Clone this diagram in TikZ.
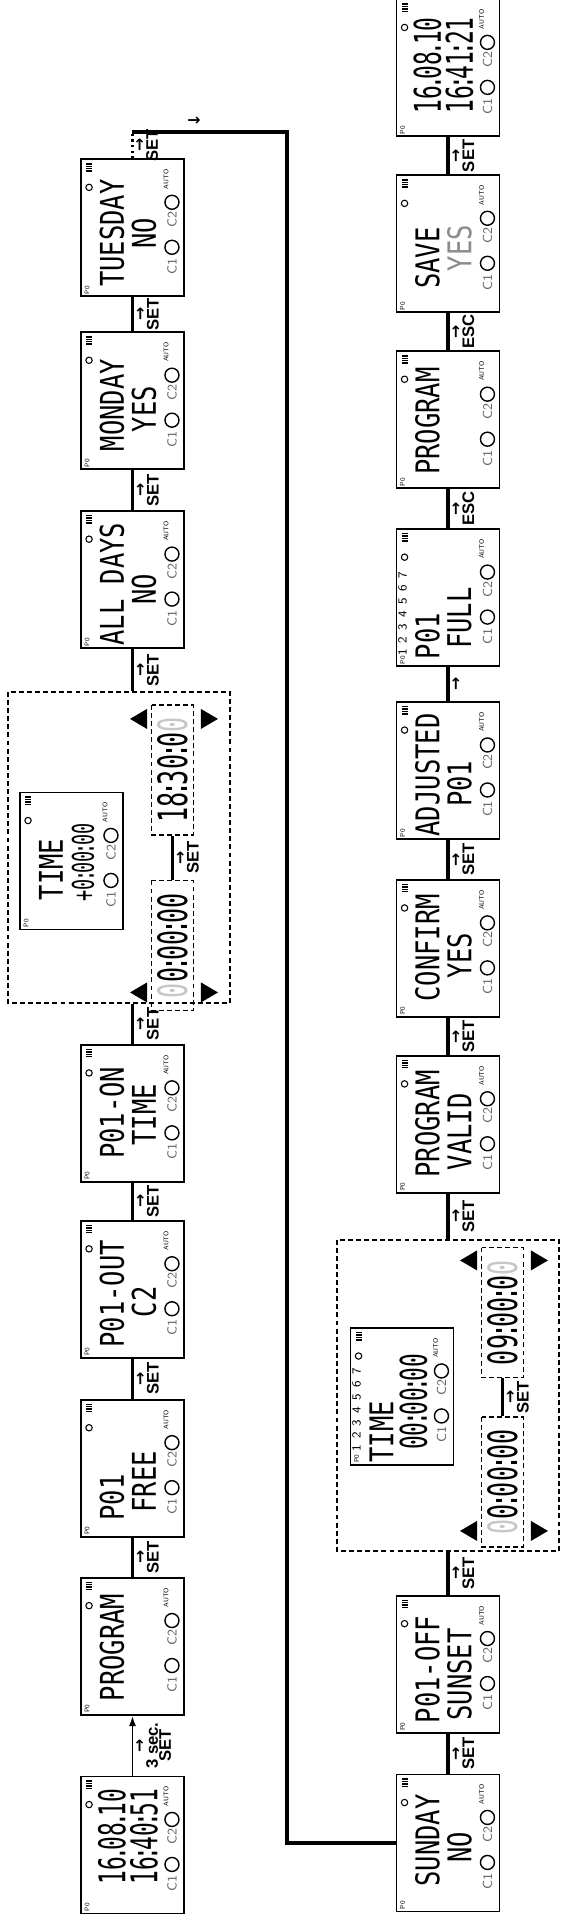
\documentclass[tikz,border=0pt]{standalone}
\usepackage{fontspec}
\usetikzlibrary{positioning,calc,arrows.meta}

\newfontfamily\lcdfont[FakeStretch=0.78]{DejaVu Sans Mono}
\newfontfamily\lcdnum[FakeStretch=0.62]{DejaVu Sans Mono}
\newfontfamily\keyfont{Liberation Sans}
\newfontfamily\arrfont{DejaVu Sans}

\newcommand\dsep[1]{\makebox[0.18em]{#1}}
\newcommand\dig{\lcdnum\fontsize{21}{21}\selectfont}
\newcommand\ghost[1]{{\color{black!22}#1}}
\newcommand\arr{{\arrfont\bfseries\fontsize{9}{9}\selectfont →}}

% frame decorations of one display
\newcommand\lcdmarks[1]{%
  \draw[line width=0.6pt] ($(#1.north east)+(-29,-9)$) circle (3.2);
  \foreach \k in {0,1,2,3}
    \fill ($(#1.north east)+(-13.5+2.4*\k,-12)$) rectangle +(1.4,6);
  \node[tag] (#1-p0) at ($(#1.north west)+(7,-7)$) {P0};
  \node[ctag] (#1-c1) at ($(#1.south west)+(31,13)$) {C1};
  \draw[line width=0.8pt] ($(#1.south west)+(50,13)$) circle (7);
  \node[ctag] (#1-c2) at ($(#1.south west)+(78,13)$) {C2};
  \draw[line width=0.8pt] ($(#1.south west)+(95,13)$) circle (7);
  \node[tag] (#1-auto) at ($(#1.south west)+(118,19)$) {AUTO};
}
\newcommand\lcdlines[5]{%
  \node[lcdtext] (#1-l1) at ($(#1.north west)+(#2,-32)$) {#3};
  \node[lcdtext] (#1-l2) at ($(#1.north west)+(#4,-64)$) {#5};
}
\newcommand\lcdline[3]{%
  \node[lcdtext] (#1-l1) at ($(#1.north west)+(#2,-32)$) {#3};
}
\newcommand\updown[2]{%
  \fill ($(#1.north west)+(#2,3.5)$) -- ++(20,0) -- ++(-10,17) -- cycle;
  \fill ($(#1.south west)+(#2,-6.5)$) -- ++(20,0) -- ++(-10,-17) -- cycle;
}

\tikzset{
  lcd/.style={draw,line width=1.1pt,minimum width=2.74cm,minimum height=2.06cm,inner sep=0pt},
  zone/.style={draw,line width=1.1pt,dash pattern=on 2.8pt off 1.8pt,minimum width=6.22cm,minimum height=4.45cm,inner sep=0pt},
  field/.style={draw,line width=1.1pt,dash pattern=on 2.8pt off 1.8pt,minimum width=2.6cm,minimum height=0.84cm,inner sep=0pt,font=\lcdnum\fontsize{23}{23}\selectfont},
  lcdtext/.style={inner sep=0pt,font=\lcdfont\fontsize{18.6}{18.6}\selectfont},
  ctag/.style={inner sep=0pt,text=black!60,font=\sffamily\fontsize{7.5}{7.5}\selectfont},
  tag/.style={inner sep=0pt,font=\sffamily\fontsize{3.8}{3.8}\selectfont},
  days/.style={inner sep=0pt,font=\sffamily\fontsize{7}{7}\selectfont},
  link/.style={line width=1.9pt},
  keylbl/.style={anchor=north,inner sep=0pt,yshift=-1.5pt,align=center,font=\keyfont\bfseries\fontsize{9.5}{7.5}\selectfont}
}

\begin{document}
\begin{tikzpicture}[x=0.02cm,y=0.02cm,rotate=90,transform shape]
\useasboundingbox (0,0) rectangle (1915,567);

% upper row
\node[lcd] (b1) at (70,434.5) {};
\node[lcd] (b2) [right=1.2cm of b1] {};
\node[lcd] (b3) [right=0.78cm of b2] {};
\node[lcd] (b4) [right=0.8cm of b3] {};
\node[lcd] (b5) [right=0.74cm of b4] {};
\node[zone] (d1) [right=0.8cm of b5, yshift=0.27cm] {};
\node[lcd] (b6) [right=0.84cm of d1, yshift=-0.27cm] {};
\node[lcd] (b7) [right=0.8cm of b6] {};
\node[lcd] (b8) [right=0.68cm of b7] {};
\node[lcd] (i1) at (1054,495.5) {};
\node[field] (t1) at (969.5,394.5) {\ghost{0}0\dsep:00\dsep:00};
\node[field] (t2) at (1145,394.5) {18\dsep:30\dsep:0\ghost{0}};

% lower row
\node[lcd] (s1) at (72,119) {};
\node[lcd] (s2) [right=0.8cm of s1] {};
\node[zone] (d2) [right=0.86cm of s2] {};
\node[lcd] (s3) [right=0.9cm of d2] {};
\node[lcd] (s4) [right=0.74cm of s3] {};
\node[lcd] (s5) [right=0.78cm of s4] {};
\node[lcd] (s6) [right=0.68cm of s5] {};
\node[lcd] (s7) [right=0.78cm of s6] {};
\node[lcd] (s8) [right=0.74cm of s7] {};
\node[lcd] (s9) [right=0.74cm of s8] {};
\node[lcd] (i2) at (518.5,165) {};
\node[field] (ta) at (433,64.5) {\ghost{0}0\dsep:00\dsep:00};
\node[field] (tb) at (602.5,64.5) {09\dsep:00\dsep:0\ghost{0}};

\foreach \n in {b1,b2,b3,b4,b5,i1,b6,b7,b8,s1,s2,i2,s3,s4,s5,s6,s7,s8,s9}
  {\lcdmarks{\n}}

\lcdlines{b1}{78}{\dig 16\dsep.08\dsep.10}{78}{\dig 16\dsep:40\dsep:51}
\lcdline{b2}{68}{PROGRAM}
\lcdlines{b3}{40}{P01}{56}{FREE}
\lcdlines{b4}{65}{P01-OUT}{57}{C2}
\lcdlines{b5}{70}{P01-ON}{68}{TIME}
\lcdlines{i1}{61}{TIME}{68}{\dig\fontsize{17}{17}\selectfont +0\dsep:00\dsep:00}
\lcdlines{b6}{65}{ALL DAYS}{60}{NO}
\lcdlines{b7}{65}{MONDAY}{61}{YES}
\lcdlines{b8}{64}{TUESDAY}{64}{NO}

\lcdlines{s1}{72}{SUNDAY}{65}{NO}
\lcdlines{s2}{64}{P01-OFF}{59}{SUNSET}
\node[days] (i2-days) at ($(i2.north west)+(56,-7)$) {1\hspace{3.6pt}2\hspace{3.6pt}3\hspace{3.6pt}4\hspace{3.6pt}5\hspace{3.6pt}6\hspace{3.6pt}7};
\lcdlines{i2}{34}{TIME}{64}{\dig 00\dsep:00\dsep:00}
\lcdlines{s3}{70}{PROGRAM}{62}{VALID}
\lcdlines{s4}{70}{CONFIRM}{62}{YES}
\lcdlines{s5}{65}{ADJUSTED}{56}{P01}
\node[days] (s6-days) at ($(s6.north west)+(53,-7)$) {1\hspace{3.6pt}2\hspace{3.6pt}3\hspace{3.6pt}4\hspace{3.6pt}5\hspace{3.6pt}6\hspace{3.6pt}7};
\lcdlines{s6}{31}{P01}{49}{FULL}
\lcdline{s7}{68}{PROGRAM}
\lcdlines{s8}{55}{SAVE}{65}{\color{black!45}YES}
\lcdlines{s9}{72}{\dig 16\dsep.08\dsep.10}{72}{\dig 16\dsep:41\dsep:21}

% blinking arrows round the time fields
\updown{t1}{9}
\updown{t2}{107}
\updown{ta}{7}
\updown{tb}{108}

% key presses
\draw[line width=1.1pt,-{Latex[length=6pt,width=4pt]}] (b1) -- node[keylbl] (k1) {\arr\\3 sec.\\SET} (b2);
\path[link]
  (b2) edge node[keylbl] (k2) {\arr\\SET} (b3)
  (b3) edge node[keylbl] (k3) {\arr\\SET} (b4)
  (b4) edge node[keylbl] (k4) {\arr\\SET} (b5)
  (b5) edge node[keylbl] (k5) {\arr\\SET} (b5 -| d1.west)
  (t1) edge node[keylbl] (k6) {\arr\\SET} (t2)
  (d1.east |- b6) edge node[keylbl] (k7) {\arr\\SET} (b6)
  (b6) edge node[keylbl] (k8) {\arr\\SET} (b7)
  (b7) edge node[keylbl] (k9) {\arr\\SET} (b8);

\coordinate (turn) at (1783,434.5);
\coordinate (back) at (1783,280);
\draw[dotted,line width=1.2pt] (b8) -- node[keylbl] (k10) {\arr\\SET} (turn);
\draw[link] (turn) -- (back) -- (s1.north |- back) -- (s1.north);
\node[inner sep=0pt,rotate=-90] (turn-arr) at (1794,373) {\arr};

\path[link]
  (s1) edge node[keylbl] (m1) {\arr\\SET} (s2)
  (s2) edge node[keylbl] (m2) {\arr\\SET} (d2)
  (ta) edge node[keylbl] (m3) {\arr\\SET} (tb)
  (d2) edge node[keylbl] (m4) {\arr\\SET} (s3)
  (s3) edge node[keylbl] (m5) {\arr\\SET} (s4)
  (s4) edge node[keylbl] (m6) {\arr\\SET} (s5)
  (s5) edge node[keylbl] (m7) {\arr} (s6)
  (s6) edge node[keylbl] (m8) {\arr\\ESC} (s7)
  (s7) edge node[keylbl] (m9) {\arr\\ESC} (s8)
  (s8) edge node[keylbl] (m10) {\arr\\SET} (s9);

\end{tikzpicture}
\end{document}
